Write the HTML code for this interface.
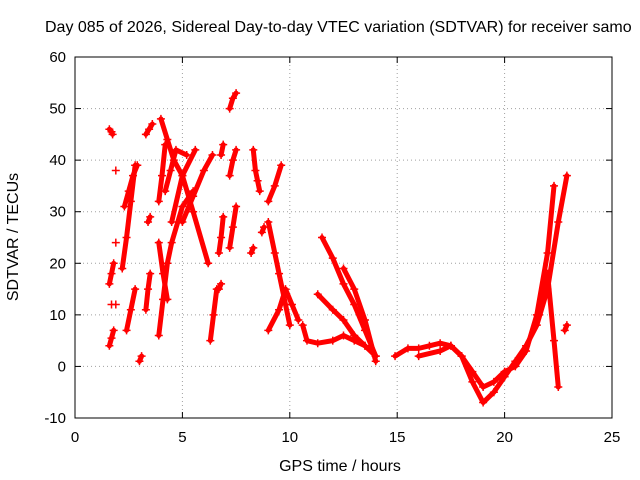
<!DOCTYPE html>
<html><head><meta charset="utf-8"><style>
html,body{margin:0;padding:0;background:#fff;width:640px;height:480px;overflow:hidden}
text{font-family:"Liberation Sans",sans-serif;font-size:15px;fill:#000}
</style></head><body>
<svg width="640" height="480">
<text x="45" y="32" style="font-size:16px">Day 085 of 2026, Sidereal Day-to-day VTEC variation (SDTVAR) for receiver samo</text>
<g id="grid"></g>
<g id="axes"></g>
<g id="series"></g>
<text x="340" y="471" text-anchor="middle" style="font-size:16px">GPS time / hours</text>
<text transform="translate(18,237) rotate(-90)" text-anchor="middle" style="font-size:16px">SDTVAR / TECUs</text>
</svg>
<script>
const xTicks=[0,5,10,15,20,25];
const yTicks=[-10,0,10,20,30,40,50,60];
const tracks=[
[[1.6,4],[1.7,5.5],[1.8,7]],
[[1.6,16],[1.7,18],[1.8,20]],
[[1.6,46],[1.7,45.5],[1.75,45]],
[[1.9,38]],[[1.9,24]],[[1.9,12]],[[1.7,12]],
[[2.2,19],[2.4,25],[2.6,32],[2.8,39]],
[[2.3,31],[2.5,34],[2.7,37],[2.9,39]],
[[2.4,7],[2.6,11],[2.8,15]],
[[3.0,1],[3.1,2]],
[[3.4,28],[3.5,29]],
[[3.3,11],[3.4,15],[3.5,18]],
[[3.3,45],[3.45,46],[3.6,47]],
[[3.9,32],[4.05,37],[4.2,43]],
[[4.0,48],[4.3,44],[4.6,40],[5.0,37],[5.5,30],[6.2,20]],
[[3.9,6],[4.1,13],[4.3,20],[4.5,24],[5.0,31],[5.5,34]],
[[3.9,24],[4.1,18],[4.3,13]],
[[4.2,34],[4.45,38],[4.7,42],[5.2,41]],
[[5.0,28],[5.5,33],[6.0,38],[6.4,41]],
[[4.5,28],[5.0,37],[5.6,42]],
[[6.3,5],[6.45,10],[6.6,15]],
[[6.7,15],[6.8,16]],
[[6.8,41],[6.9,43]],
[[6.7,22],[6.8,25],[6.9,29]],
[[7.2,50],[7.35,52],[7.5,53]],
[[7.2,37],[7.35,40],[7.5,42]],
[[7.2,23],[7.35,27],[7.5,31]],
[[8.3,42],[8.4,38],[8.5,36],[8.6,34]],
[[8.2,22],[8.3,23]],
[[8.7,26],[8.8,27]],
[[9.0,32],[9.3,35],[9.6,39]],
[[9.0,28],[9.3,22],[9.5,18],[9.8,12],[10.0,8]],
[[9.0,7],[9.5,11],[9.8,15],[10.1,12],[10.4,9]],
[[10.6,8],[10.8,5],[11.3,4.5],[12,5],[12.5,6],[13,5],[13.5,4]],
[[11.5,25],[12,21],[12.5,16],[13,12],[13.5,7],[14,2]],
[[11.3,14],[12,11],[12.5,9],[13,6],[13.5,4],[14,2]],
[[12.5,19],[13,15],[13.5,9],[14,1]],
[[14.9,2],[15.5,3.5],[16,3.5],[16.5,4],[17,4.5],[17.5,4],[18,2],[18.5,-3],[19,-7],[19.5,-5],[20,-2],[20.5,1],[21,4],[21.5,8],[22,15],[22.5,28],[22.9,37]],
[[16,2],[17,3],[17.5,4],[18,2],[18.5,-1],[19,-4],[19.5,-3],[20,-1],[20.5,0],[21,3],[21.5,10],[22,22],[22.3,35]],
[[21.6,10],[22,18],[22.3,5],[22.5,-4]],
[[22.8,7],[22.9,8]]
];
const X0=75,X1=612,Y0=418,Y1=57;
const sx=v=>X0+(v-0)/25*(X1-X0);
const sy=v=>Y0-(v+10)/70*(Y0-Y1);
const NS="http://www.w3.org/2000/svg";
function mk(tag,attrs,parent){const e=document.createElementNS(NS,tag);for(const k in attrs)e.setAttribute(k,attrs[k]);parent.appendChild(e);return e;}
const grid=document.getElementById('grid'),axes=document.getElementById('axes'),ser=document.getElementById('series');
xTicks.forEach(t=>{const x=sx(t);
 if(t>0&&t<25){const g=mk('line',{x1:x,x2:x,y1:Y1,y2:Y0,stroke:'#a0a0a0','stroke-dasharray':'1,3'},grid);
 
 }
 mk('line',{x1:x,x2:x,y1:Y0,y2:Y0-6,stroke:'#000'},axes);
 mk('line',{x1:x,x2:x,y1:Y1,y2:Y1+6,stroke:'#000'},axes);
 const l=mk('text',{x:x,y:Y0+24,'text-anchor':'middle'},axes);l.textContent=t;
 
 });
yTicks.forEach(t=>{const y=sy(t);
 if(t>-10&&t<60){const g=mk('line',{x1:X0,x2:X1,y1:y,y2:y,stroke:'#a0a0a0','stroke-dasharray':'1,3'},grid);
 
 }
 mk('line',{x1:X0,x2:X0+6,y1:y,y2:y,stroke:'#000'},axes);
 mk('line',{x1:X1,x2:X1-6,y1:y,y2:y,stroke:'#000'},axes);
 const l=mk('text',{x:X0-9,y:y+5,'text-anchor':'end'},axes);l.textContent=t;
 
 });
const fr=mk('rect',{x:X0,y:Y1,width:X1-X0,height:Y0-Y1,fill:'none',stroke:'#000'},axes);


tracks.forEach(tr=>{
 const pl=mk('polyline',{points:tr.map(p=>sx(p[0])+','+sy(p[1])).join(' '),fill:'none',stroke:'#ff0000','stroke-width':5,'stroke-linejoin':'round','stroke-linecap':'round'},ser);
 
 
 tr.forEach(p=>{const x=sx(p[0]),y=sy(p[1]);
  const m=mk('path',{d:`M${x-4},${y}H${x+4}M${x},${y-4}V${y+4}`,stroke:'#ff0000','stroke-width':1.5},ser);
  
  });
});
</script>
</body></html>
